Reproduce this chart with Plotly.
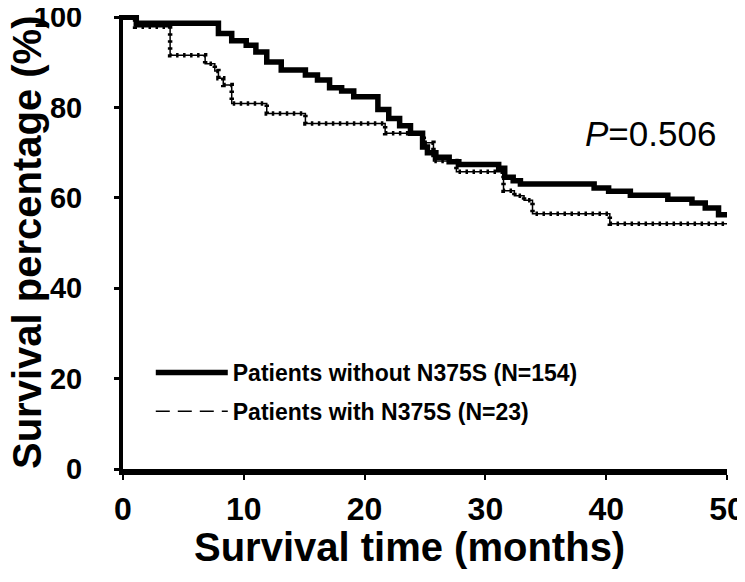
import plotly.graph_objects as go

# Kaplan-Meier step points (time in months, survival %)
t_without = [0, 1.1, 7.9, 9.0, 10.2, 11.0, 11.9, 13.1, 15.1, 16.1, 17.1, 18.1, 19.1,
             21.1, 22.0, 22.9, 23.8, 24.8, 25.2, 25.9, 27.0, 27.8, 31.1, 31.6, 32.3,
             32.9, 39.0, 40.2, 42.0, 45.1, 47.1, 48.2, 49.3, 50.2]
s_without = [100, 98.7, 96.4, 94.8, 93.8, 92.3, 90.1, 88.3, 87.2, 86.1, 84.4, 83.7, 82.4,
             79.6, 77.6, 76.0, 74.3, 71.3, 70.0, 69.0, 68.0, 67.4, 66.6, 64.6, 63.8,
             63.1, 62.2, 61.5, 60.6, 59.7, 58.9, 57.8, 56.3, 56.3]

t_with = [0, 1.0, 3.9, 6.8, 7.6, 7.9, 8.3, 9.0, 11.9, 15.1, 21.7, 24.9, 25.7, 27.6,
          31.5, 32.4, 33.2, 33.9, 40.3, 50.0]
s_with = [100, 97.9, 91.6, 89.7, 88.1, 86.5, 85.0, 80.9, 78.7, 76.5, 74.3, 72.2, 68.2, 65.8,
          61.6, 60.5, 59.5, 56.5, 54.3, 54.3]

x_ticks = [0, 10, 20, 30, 40, 50]
y_ticks = [0, 20, 40, 60, 80, 100]
name_without = "Patients without N375S (N=154)"
name_with = "Patients with N375S (N=23)"
p_text = "<i>P</i>=0.506"
x_title = "Survival time (months)"
y_title = "Survival percentage (%)"

FONT = "Liberation Sans, Arial, sans-serif"

fig = go.Figure()
fig.add_trace(go.Scatter(x=t_without, y=s_without, mode="lines", line_shape="hv",
                         line=dict(color="black", width=5.5), name=name_without,
                         legendgroup="a"))
# dashed series: thin connecting line + dotted overlay
fig.add_trace(go.Scatter(x=t_with, y=s_with, mode="lines", line_shape="hv",
                         line=dict(color="black", width=1.5), showlegend=False,
                         legendgroup="b"))
fig.add_trace(go.Scatter(x=t_with, y=s_with, mode="lines", line_shape="hv",
                         line=dict(color="black", width=4.5, dash="2.5px,4.5px"),
                         showlegend=False, legendgroup="b"))
fig.add_trace(go.Scatter(x=[None], y=[None], mode="lines",
                         line=dict(color="black", width=1.5, dash="14px,8px"),
                         name=name_with, legendgroup="b"))

fig.add_annotation(x=43.7, y=74.2, text=p_text, showarrow=False,
                   xanchor="center", yanchor="middle",
                   font=dict(family=FONT, size=35, color="black"))

# axis titles
fig.add_annotation(xref="paper", yref="paper", x=0.475, y=0, yanchor="top",
                   xanchor="center", yshift=-54, text=x_title, showarrow=False,
                   font=dict(family=FONT, size=40, color="black", weight="bold"))
fig.add_annotation(xref="paper", yref="paper", x=0, y=0.5, xanchor="center",
                   yanchor="middle", xshift=-96, textangle=-90, text=y_title,
                   showarrow=False,
                   font=dict(family=FONT, size=40, color="black", weight="bold"))

# page body has an 8px margin, so the figure is 8px smaller than the window
fig.update_layout(
    width=737, height=574,
    margin=dict(l=115, r=18, t=7, b=113),
    paper_bgcolor="white", plot_bgcolor="white",
    font=dict(family=FONT, color="black"),
    legend=dict(x=0.046, y=0.26, xanchor="left", yanchor="top",
                bgcolor="rgba(0,0,0,0)", itemwidth=72, tracegroupgap=6,
                traceorder="grouped",
                font=dict(family=FONT, size=23, color="black", weight="bold")),
    xaxis=dict(range=[0, 50], tickvals=x_ticks, ticktext=[str(v) for v in x_ticks],
               automargin=False, ticklabeloverflow="allow",
               showgrid=False, zeroline=False, showline=True, linecolor="black",
               linewidth=6, ticks="outside", ticklen=5, tickwidth=1.5,
               tickcolor="black", ticklabelstandoff=2,
               tickfont=dict(family=FONT, size=32, weight="bold")),
    yaxis=dict(range=[0, 100.5], tickvals=y_ticks, ticktext=[str(v) for v in y_ticks],
               automargin=False, ticklabeloverflow="allow",
               showgrid=False, zeroline=False, showline=True, linecolor="black",
               linewidth=4, ticks="outside", ticklen=5, tickwidth=3,
               tickcolor="black", ticklabelstandoff=26,
               tickfont=dict(family=FONT, size=29, weight="bold")),
)

fig.write_html("out.html")
